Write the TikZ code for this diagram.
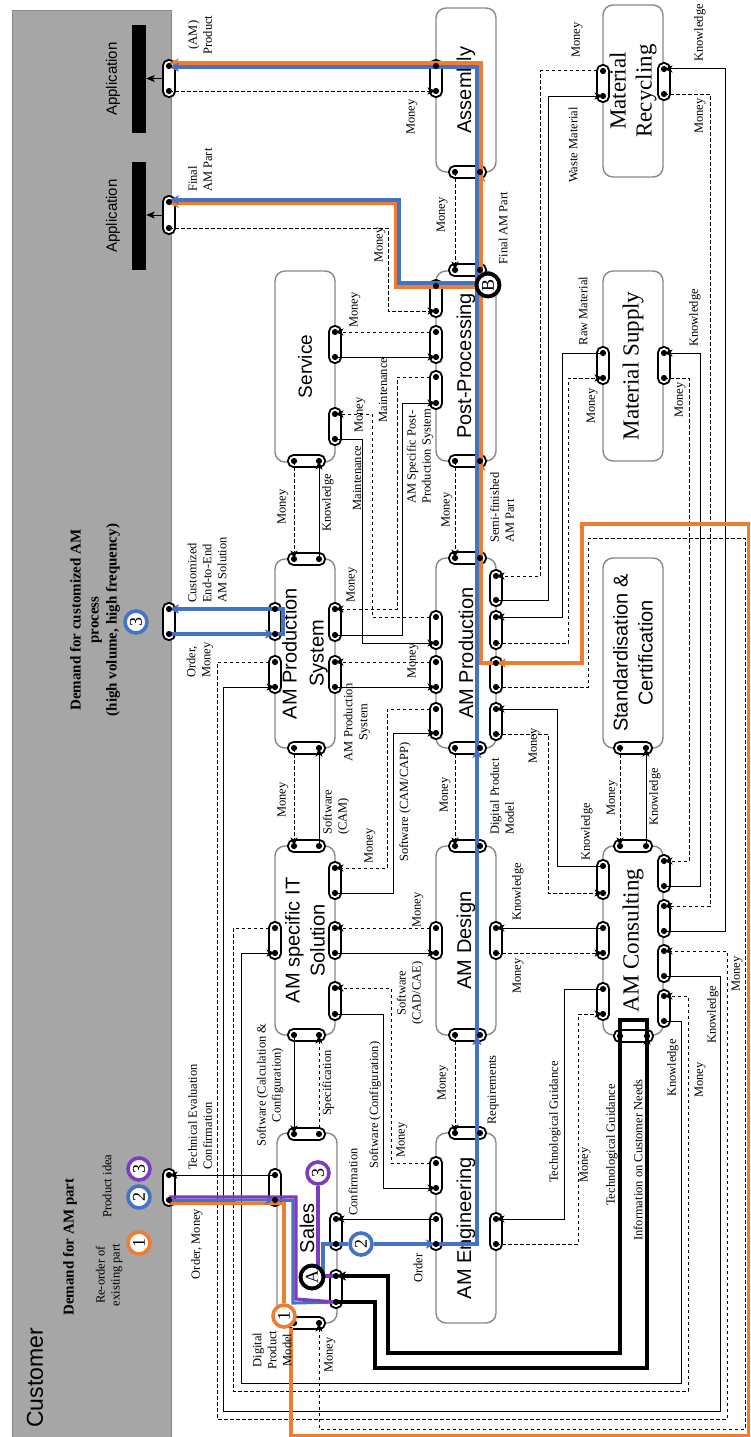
\documentclass[tikz,border=0pt]{standalone}
\usepackage{fontspec}
\setmainfont{Liberation Serif}
\newfontfamily\sansf{Liberation Sans}
\usetikzlibrary{arrows.meta}
\definecolor{ocol}{RGB}{237,125,49}
\definecolor{bcol}{RGB}{68,114,196}
\definecolor{pcol}{RGB}{125,60,190}
\definecolor{custgray}{RGB}{166,166,166}
\definecolor{boxgray}{RGB}{135,135,135}
\pgfdeclarelayer{boxl}
\pgfdeclarelayer{capl}
\pgfdeclarelayer{fg}
\pgfsetlayers{boxl,capl,main,fg}
\newcommand\VP[4]{%
  \begin{pgfonlayer}{capl}
  \node[capn, minimum width=12pt, minimum height={#4-#3+12}] (#1) at (#2,{(#3+#4)/2}) {};
  \end{pgfonlayer}
  \coordinate (#1a) at (#2,#3);
  \coordinate (#1b) at (#2,#4);
  \begin{pgfonlayer}{fg}
  \fill (#1a) circle (3.1pt) (#1b) circle (3.1pt);
  \end{pgfonlayer}}
\newcommand\HP[4]{%
  \begin{pgfonlayer}{capl}
  \node[capn, minimum height=12pt, minimum width={#4-#3+12}] (#1) at ({(#3+#4)/2},#2) {};
  \end{pgfonlayer}
  \coordinate (#1a) at (#3,#2);
  \coordinate (#1b) at (#4,#2);
  \begin{pgfonlayer}{fg}
  \fill (#1a) circle (3.1pt) (#1b) circle (3.1pt);
  \end{pgfonlayer}}
\begin{document}
\begin{tikzpicture}[x=1pt,y=-1pt,
  capn/.style={draw=black, line width=1.8pt, fill=white, rounded corners=5.5pt, inner sep=0pt, rectangle},
  box/.style={draw=boxgray, line width=1.4pt, rounded corners=10pt, rotate=90, minimum height=60pt, inner sep=0pt, align=center},
  sbox/.style={box, font=\sansf\fontsize{20}{25}\selectfont},
  rbox/.style={box, font=\fontsize{23}{26}\selectfont},
  lab/.style={rotate=90, inner sep=0pt, font=\fontsize{12.5}{15}\selectfont, align=center},
  fl/.style={line width=1pt, -{Stealth[length=8.5pt,width=7pt,inset=2pt]}},
  mo/.style={fl, dash pattern=on 3.5pt off 2.5pt},
  oc/.style={draw=ocol, line width=3.1pt},
  bc/.style={draw=bcol, line width=3.1pt},
  pc/.style={draw=pcol, line width=3.1pt},
  ctip/.style={-{Stealth[length=10pt,width=9pt,inset=2.5pt]}},
  numc/.style={circle, line width=3.6pt, fill=white, minimum size=22pt, inner sep=0pt, rotate=90, font=\fontsize{18}{18}\selectfont},
  abc/.style={circle, draw=black, line width=3.9pt, fill=white, minimum size=23pt, inner sep=0pt, rotate=90, font=\fontsize{18}{18}\selectfont}
]
\useasboundingbox (0,0) rectangle (750,1437);

% ---------------- customer panel
\begin{pgfonlayer}{boxl}
\node[draw=boxgray, fill=custgray, line width=1.2pt, minimum width=159pt, minimum height=1427pt, inner sep=0pt, anchor=north west] (cust) at (12,10) {};
\node[fill=black, minimum width=14pt, minimum height=108pt, inner sep=0pt] (bar1) at (139,79) {};
\node[fill=black, minimum width=14pt, minimum height=108pt, inner sep=0pt] (bar2) at (139,216) {};
\node[rotate=90, font=\sansf\fontsize{15}{15}\selectfont] (app1) at (113,79) {Application};
\node[rotate=90, font=\sansf\fontsize{15}{15}\selectfont] (app2) at (113,216) {Application};
\node[rotate=90, font=\sansf\fontsize{23}{23}\selectfont] (custt) at (35,1378) {Customer};
\node[rotate=90, font=\bfseries\fontsize{15}{15}\selectfont] (dem1) at (70,1247) {Demand for AM part};
\node[rotate=90, font=\bfseries\fontsize{15}{18}\selectfont, align=center] (dem2) at (95,620) {Demand for customized AM\\process\\(high volume, high frequency)};
\node[lab] (reord) at (109,1275) {Re-order of\\existing part};
\node[lab] (pidea) at (107,1186) {Product idea};

% ---------------- process boxes
\node[sbox, minimum width=164pt] (asm) at (466,90) {Assembly};
\node[rbox, minimum width=172pt] (mr) at (633,91) {Material\\Recycling};
\node[sbox, minimum width=191pt, font=\sansf\fontsize{19}{25}\selectfont] (svc) at (305,366.5) {Service};
\node[sbox, minimum width=190pt] (pp) at (466,366) {Post-Processing};
\node[rbox, minimum width=190pt] (ms) at (633,366) {Material Supply};
\node[sbox, minimum width=189pt, font=\sansf\fontsize{20}{27}\selectfont] (amps) at (305,653.5) {AM Production\\System};
\node[sbox, minimum width=190pt] (amp) at (466,653) {AM Production};
\node[sbox, minimum width=190pt] (sc) at (633,653) {Standardisation \&\\Certification};
\node[sbox, minimum width=189pt] (it) at (305,940.5) {AM specific IT\\Solution};
\node[sbox, minimum width=189pt] (amd) at (466,940.5) {AM Design};
\node[rbox, minimum width=189pt] (amc) at (633,940.5) {AM Consulting};
\node[sbox, minimum width=190pt] (sal) at (307,1228) {Sales};
\node[sbox, minimum width=190pt] (ame) at (466,1228) {AM Engineering};
\end{pgfonlayer}

% ---------------- ports
\VP{C1}{169}{66}{91}
\VP{C2}{169}{202}{228}
\VP{C3}{169}{609}{634}
\VP{C4}{169}{1175}{1200}
\VP{asmL}{436}{66}{91}
\HP{asmB}{172}{455}{480}
\HP{ppT}{270}{455}{480}
\VP{ppL1}{436}{286}{311}
\VP{ppL2}{436}{332}{357}
\VP{ppL3}{436}{377}{403}
\HP{ppB}{461}{455}{480}
\VP{svR1}{335}{332}{357}
\VP{svR2}{335}{414}{439}
\HP{svB}{461}{294}{319}
\VP{mrL}{603}{71}{96}
\VP{mrR}{664}{69}{94}
\VP{msL}{603}{353}{378}
\VP{msR}{664}{353}{378}
\HP{ampsT}{559}{294}{319}
\VP{ampsL1}{275}{609}{634}
\VP{ampsL2}{275}{662}{687}
\VP{ampsR1}{335}{609}{635}
\VP{ampsR2}{335}{662}{687}
\HP{ampsB}{748}{294}{319}
\HP{ampT}{558}{455}{480}
\VP{ampL1}{436}{617}{643}
\VP{ampL2}{436}{662}{687}
\VP{ampL3}{436}{709}{733}
\VP{ampRA}{496}{576}{600}
\VP{ampRB}{496}{617}{643}
\VP{ampRC}{496}{663}{687}
\VP{ampRD}{496}{709}{734}
\HP{ampB}{748}{455}{480}
\HP{scB}{748}{620}{646}
\HP{itT}{846}{294}{319}
\VP{itL}{275}{928}{953}
\VP{itR1}{335}{868}{893}
\VP{itR2}{335}{928}{953}
\VP{itR3}{335}{988}{1014}
\HP{itB}{1035}{294}{319}
\HP{amdT}{846}{455}{480}
\VP{amdL}{436}{928}{953}
\VP{amdR}{496}{928}{953}
\HP{amdB}{1035}{455}{480}
\HP{amcT}{846}{620}{646}
\VP{amcL1}{603}{866}{893}
\VP{amcL2}{603}{928}{953}
\VP{amcL3}{603}{989}{1014}
\VP{amcR1}{664}{861}{886}
\VP{amcR2}{664}{906}{931}
\VP{amcR3}{664}{951}{976}
\VP{amcR4}{664}{996}{1021}
\HP{amcB}{1036}{620}{647}
\HP{salT}{1134}{294}{319}
\VP{salL}{275}{1175}{1200}
\VP{salR1}{336}{1219}{1244}
\VP{salR2}{336}{1276}{1302}
\HP{salB}{1323}{294}{319}
\HP{ameT}{1133}{455}{480}
\VP{ameL1}{436}{1163}{1188}
\VP{ameL2}{436}{1219}{1244}
\VP{ameR}{496}{1219}{1244}

% ---------------- circles (drawn on top layer)
\begin{pgfonlayer}{fg}
\node[numc, draw=ocol] (no1) at (139,1243) {1};
\node[numc, draw=bcol] (nb2) at (139,1197) {2};
\node[numc, draw=pcol] (np3) at (139,1169) {3};
\node[numc, draw=bcol] (nb3) at (136,622) {3};
\node[numc, draw=ocol] (co1) at (284,1316) {1};
\node[numc, draw=bcol] (cb2) at (361,1244) {2};
\node[numc, draw=pcol] (cp3) at (318,1173) {3};
\node[abc] (cA) at (312,1277) {A};
\node[abc] (cB) at (488,285) {B};
\end{pgfonlayer}

% ---------------- application arrows
\draw[fl] (C1.west) -- (C1.west -| bar1.east);
\draw[fl] (C2.west) -- (C2.west -| bar2.east);

% ---------------- black connectors
\draw[mo] (C1b) -- (asmLb);
\draw[mo] (asmBa) -- (ppTa);
\draw[mo] (C2b) -| (388,311) -- (ppL1b);
\draw[mo] (ppL2a) -- (svR1a);
\draw[fl] (svR1b) -- (ppL2b);
\draw[mo] (ppL3a) -| (397,609) -- (ampsR1a);
\draw[fl] (ampsR1b) -| (402,403) -- (ppL3b);
\draw[fl] (svR2b) -| (362,643) -- (ampL1b);
\draw[mo] (ampL1a) -| (372,414) -- (svR2a);
\draw[mo] (ampL2a) -- (ampsR2a);
\draw[fl] (ampsR2b) -- (ampL2b);
\draw[mo] (svBa) -- (ampsTa);
\draw[fl] (ampsTb) -- (svBb);
\draw[mo] (ppBa) -- (ampTa);
\draw[mo] (mrLa) -| (540,576) -- (ampRAa);
\draw[fl] (ampRAb) -| (548,96) -- (mrLb);
\draw[fl] (msLa) -| (562,617) -- (ampRBa);
\draw[mo] (ampRBb) -| (568,378) -- (msLb);
\draw[mo] (ampRCb) -| (588,538) -| (745,1429) -| (salBb);
\draw[fl] (amcL1a) -| (557,709) -- (ampRDa);
\draw[mo] (ampRDb) -| (548,893) -- (amcL1b);
\draw[mo] (msRb) -| (689,861) -- (amcR1a);
\draw[fl] (amcR1b) -| (700,353) -- (msRa);
\draw[mo] (mrRb) -| (710,906) -- (amcR2a);
\draw[fl] (amcR2b) -| (725,69) -- (mrRa);
\draw[mo] (ampsL2a) -| (217,1419) -| (727,951) -- (amcR3a);
\draw[fl] (amcR3b) -| (720,1411) -| (223,687) -- (ampsL2b);
\draw[mo] (itLa) -| (233,1391) -| (688,996) -- (amcR4a);
\draw[fl] (amcR4b) -| (681,1383) -| (241,953) -- (itLb);
\draw[mo] (ampsBa) -- (itTa);
\draw[fl] (itTb) -- (ampsBb);
\draw[mo] (ampL3a) -| (387,868) -- (itR1a);
\draw[fl] (itR1b) -| (393,733) -- (ampL3b);
\draw[mo] (ampBa) -- (amdTa);
\draw[mo] (amdLa) -- (itR2a);
\draw[fl] (itR2b) -- (amdLb);
\draw[fl] (amcL2a) -- (amdRa);
\draw[mo] (amdRb) -- (amcL2b);
\draw[mo] (scBa) -- (amcTa);
\draw[fl] (amcTb) -- (scBb);
\draw[fl] (itBa) -- (salTa);
\draw[mo] (salTb) -- (itBb);
\draw[fl] (itR3b) -| (383,1188) -- (ameL1b);
\draw[mo] (ameL1a) -| (391,988) -- (itR3a);
\draw[mo] (amdBa) -- (ameTa);
\draw[fl] (amcL3a) -| (564,1219) -- (ameRa);
\draw[mo] (ameRb) -| (578,1014) -- (amcL3b);
\draw[fl] (ameL2a) -- (salR1a);
\draw[fl] (salLa) -- (C4a);

% thick loop A
\draw[line width=3.4pt, line join=miter, -{Stealth[length=10pt,width=9pt,inset=2.5pt]}] (salR2b) -| (375,1368) -| (647,1020) -| (620,1353) -| (388,1276) -- (salR2a);
\draw[fl] (647,1062) -- (amcBb);

% ---------------- colored paths
% orange (1)
\draw[oc] (169,1203.5) -- (284,1203.5) -- (co1);
\draw[oc, ctip] (291,1328) -- (291,1435.5) -- (748.5,1435.5) -- (748.5,524) -- (582,524) -- (582,663) -- (ampRCa);
\draw[oc] (ampRCa) -- (481,663) -- (481,63) -- (175,63);
\draw[oc, ctip] (230,63) -- (169,63);
\draw[oc] (481,287) -- (396,287) -- (396,203.5) -- (175,203.5);
\draw[oc, ctip] (230,203.5) -- (169,203.5);
\draw[oc, ctip] (481,490) -- (481,461);
\draw[oc, ctip] (481,200) -- (481,172);
% blue (2)
\draw[bc, ctip] (169,1200.5) -- (salLb);
\draw[bc] (salLb) -- (293,1200.5) -- (293,1303) -- (salR2b);
\draw[bc] (salR2a) -- (323,1276) -- (323,1244) -- (salR1b) -- (cb2);
\draw[bc, ctip] (cb2) -- (ameL2b);
\draw[bc] (ameL2b) -- (477,1244) -- (477,67) -- (175,67);
\draw[bc, ctip] (230,67) -- (169,67);
\draw[bc] (477,283) -- (399,283) -- (399,200) -- (175,200);
\draw[bc, ctip] (230,200) -- (169,200);
\draw[bc, ctip] (477,1070) -- (477,1035);
\draw[bc, ctip] (477,780) -- (477,748);
% blue (3)
\draw[bc, ctip] (ampsL1a) -- (C3a);
\draw[bc, ctip] (C3b) -- (ampsL1b);
\draw[bc] (ampsL1a) -- (283,609) -- (283,634) -- (ampsL1b);
% purple (3)
\draw[pc] (169,1197) -- (296,1197) -- (296,1299) -- (salR2b);
\draw[pc] (salR2a) -- (318,1276) -- (cp3);

% ---------------- labels
\node[lab] (t1) at (200,35) {(AM)\\Product};
\node[lab] (t2) at (412,117) {Money};
\node[lab, anchor=west, align=left] (t3) at (200,192) {Final\\AM Part};
\node[lab] (t4) at (442,215) {Money};
\node[lab] (t5) at (503,228) {Final AM Part};
\node[lab] (t6) at (380,245) {Money};
\node[lab] (t7) at (355,310) {Money};
\node[lab] (t8) at (383,390) {Maintenance};
\node[lab] (t9) at (360,415) {Money};
\node[lab] (t10) at (357,478) {Maintenance};
\node[lab, anchor=west, align=left] (t11) at (420,504) {AM Specific Post-\\Production System};
\node[lab] (t12) at (352,585) {Money};
\node[lab, anchor=west, align=left] (t13) at (502,543) {Semi-finished\\AM Part};
\node[lab] (t14) at (447,510) {Money};
\node[lab] (t15) at (283,507) {Money};
\node[lab] (t16) at (328,503) {Knowledge};
\node[lab, anchor=west, align=left] (t17) at (207,603) {Customized\\End-to-End\\AM Solution};
\node[lab, anchor=west, align=left] (t18) at (200,678) {Order,\\Money};
\node[lab] (t19) at (413,661) {Money};
\node[lab] (t20) at (357,722) {AM Production\\System};
\node[lab] (t21) at (534,746) {Money};
\node[lab] (t22) at (445,795) {Money};
\node[lab, anchor=west, align=left] (t23) at (502,835) {Digital Product\\Model};
\node[lab] (t24) at (405,802) {Software (CAM/CAPP)};
\node[lab] (t25) at (370,846) {Money};
\node[lab] (t26) at (283,800) {Money};
\node[lab, anchor=west, align=left] (t27) at (336,835) {Software\\(CAM)};
\node[lab] (t28) at (587,832) {Knowledge};
\node[lab] (t29) at (612,798) {Money};
\node[lab] (t30) at (655,797) {Knowledge};
\node[lab] (t31) at (518,892) {Knowledge};
\node[lab] (t32) at (418,910) {Money};
\node[lab] (t33) at (410,993) {Software\\(CAD/CAE)};
\node[lab] (t34) at (518,976) {Money};
\node[lab] (t35) at (673,1068) {Knowledge};
\node[lab] (t36) at (700,1080) {Money};
\node[lab] (t37) at (713,1015) {Knowledge};
\node[lab] (t38) at (737,974) {Money};
\node[lab] (t39) at (443,1083) {Money};
\node[lab] (t40) at (493,1090) {Requirements};
\node[lab] (t41) at (555,1122) {Technological Guidance};
\node[lab] (t42) at (585,1165) {Money};
\node[lab] (t43) at (612,1145) {Technological Guidance};
\node[lab] (t44) at (638,1160) {Information on Customer Needs};
\node[lab, anchor=west, align=left] (t45) at (200,1170) {Technical Evaluation\\Confirmation};
\node[lab] (t46) at (270,1085) {Software (Calculation \&\\Configuration)};
\node[lab] (t47) at (328,1083) {Specification};
\node[lab] (t48) at (353,1182) {Confirmation};
\node[lab] (t49) at (375,1105) {Software (Configuration)};
\node[lab] (t50) at (402,1140) {Money};
\node[lab] (t51) at (418,1268) {Order};
\node[lab] (t52) at (197,1244) {Order, Money};
\node[lab] (t53) at (272,1350) {Digital\\Product\\Model};
\node[lab] (t54) at (330,1355) {Money};
\node[lab] (t55) at (577,40) {Money};
\node[lab] (t56) at (573,145) {Waste Material};
\node[lab] (t57) at (583,311) {Raw Material};
\node[lab] (t58) at (592,406) {Money};
\node[lab] (t59) at (695,318) {Knowledge};
\node[lab] (t60) at (680,400) {Money};
\node[lab] (t61) at (700,33) {Knowledge};
\node[lab] (t62) at (700,116) {Money};
\end{tikzpicture}
\end{document}
